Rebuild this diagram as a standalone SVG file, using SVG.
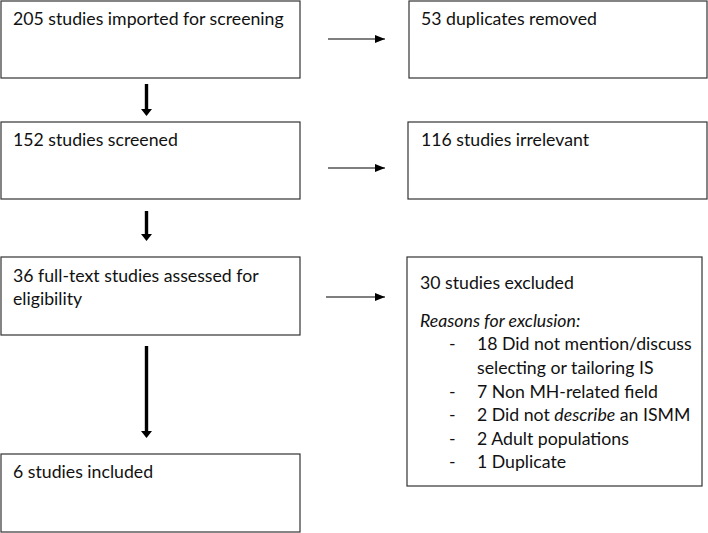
<svg xmlns="http://www.w3.org/2000/svg" width="708" height="533" viewBox="0 0 708 533">
<style>
.box{fill:#fff;stroke:#333;stroke-width:1.2}
.t{font-family:Lato,"Open Sans",sans-serif;font-size:17.7px;fill:#111}
.thin{stroke:#000;stroke-width:1.2;fill:none}
.thick{stroke:#000;stroke-width:3.4;fill:none}
.head{fill:#000}
</style>
<defs>
<marker id="ah" viewBox="0 0 10 10" refX="10" refY="5" markerWidth="10" markerHeight="10" markerUnits="userSpaceOnUse" orient="auto">
<path d="M0,1 L10,5 L0,9 Z" fill="#000"/>
</marker>
</defs>
<rect width="708" height="533" fill="#fff"/>
<g id="connectors">
<line class="thin" x1="328" y1="39" x2="385" y2="39" marker-end="url(#ah)"/>
<line class="thin" x1="328" y1="168" x2="385" y2="168" marker-end="url(#ah)"/>
<line class="thin" x1="326" y1="297" x2="385" y2="297" marker-end="url(#ah)"/>
<line class="thick" x1="146.5" y1="84" x2="146.5" y2="110"/>
<polygon class="head" points="141,109 152,109 146.5,116"/>
<line class="thick" x1="146.5" y1="211" x2="146.5" y2="235"/>
<polygon class="head" points="141,234 152,234 146.5,241"/>
<line class="thick" x1="146.5" y1="346" x2="146.5" y2="432"/>
<polygon class="head" points="141,431 152,431 146.5,438"/>
</g>
<g id="n1"><rect class="box" x="1" y="1" width="299" height="77"/><text class="t" x="13" y="25">205 studies imported for screening</text></g>
<g id="n2"><rect class="box" x="409" y="1" width="298" height="77"/><text class="t" x="421" y="25">53 duplicates removed</text></g>
<g id="n3"><rect class="box" x="1" y="122" width="299" height="77"/><text class="t" x="13" y="146">152 studies screened</text></g>
<g id="n4"><rect class="box" x="408" y="122" width="299" height="77"/><text class="t" x="421" y="146">116 studies irrelevant</text></g>
<g id="n5"><rect class="box" x="1" y="257" width="299" height="78"/><text class="t" x="13" y="282">36 full-text studies assessed for</text><text class="t" x="13" y="305">eligibility</text></g>
<g id="n6"><rect class="box" x="1" y="454" width="299" height="78"/><text class="t" x="13" y="478">6 studies included</text></g>
<g id="n7"><rect class="box" x="407" y="257" width="295" height="229"/>
<text class="t" x="420" y="289">30 studies excluded</text>
<text class="t" x="420" y="327" font-style="italic">Reasons for exclusion:</text>
<text class="t" x="449" y="350">-</text><text class="t" x="477" y="350">18 Did not mention/discuss</text>
<text class="t" x="477" y="374">selecting or tailoring IS</text>
<text class="t" x="449" y="398">-</text><text class="t" x="477" y="398">7 Non MH-related field</text>
<text class="t" x="449" y="421">-</text><text class="t" x="477" y="421">2 Did not <tspan font-style="italic">describe</tspan> an ISMM</text>
<text class="t" x="449" y="445">-</text><text class="t" x="477" y="445">2 Adult populations</text>
<text class="t" x="449" y="468">-</text><text class="t" x="477" y="468">1 Duplicate</text>
</g>
</svg>
